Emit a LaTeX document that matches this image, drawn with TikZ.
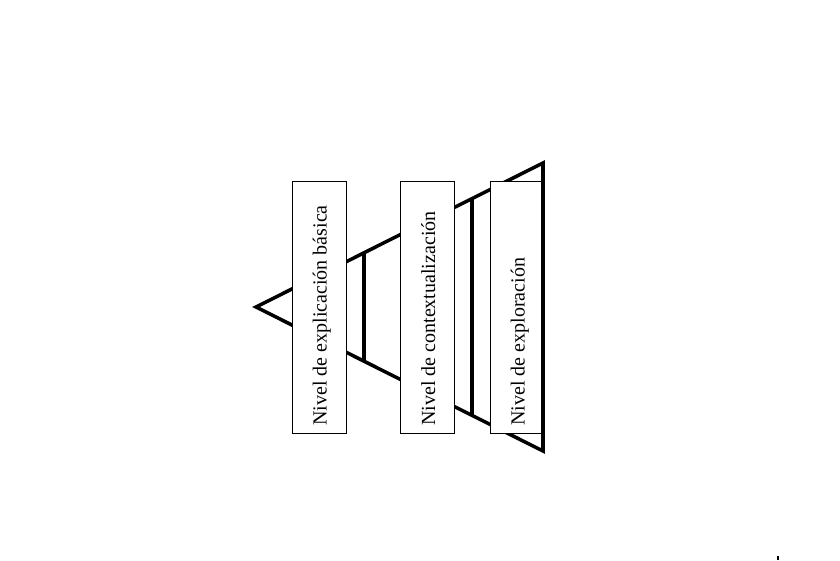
\documentclass[tikz,border=0pt]{standalone}
\usepackage{fontspec}
\setmainfont{Liberation Serif}
\usetikzlibrary{calc}

\begin{document}
\begin{tikzpicture}[x=1pt, y=-1pt,
		nivel/.style={draw, fill=white, line width=0.8pt, minimum width=54pt, minimum height=252pt, inner sep=0pt},
		rotulo/.style={rotate=90, anchor=base west, inner sep=0pt, font=\fontsize{20}{24}\selectfont},
		borde/.style={line width=3.5pt}]
			%%%%% START %%%%%
			\useasboundingbox (0,0) rectangle (840,561);
			
			\coordinate (apex) at (256,307);
			\coordinate (arriba) at (543,163);
			\coordinate (abajo) at (543,451);
			
			\draw[borde] (arriba) -- (apex) -- (abajo) -- cycle;
			\draw[borde] ($(apex)!0.376!(arriba)$) -- ($(apex)!0.376!(abajo)$);
			\draw[borde] ($(apex)!0.753!(arriba)$) -- ($(apex)!0.753!(abajo)$);
			
			\node[nivel] (basica) at (319,307.5) {};
			\node[rotulo] at ($(basica.south west)+(35,-8)$) {Nivel de explicación básica};
			
			\node[nivel] (contexto) at (427.5,307.5) {};
			\node[rotulo] at ($(contexto.south west)+(35,-8)$) {Nivel de contextualización};
			
			\node[nivel] (exploracion) at (517,307.5) {};
			\node[rotulo] at ($(exploracion.south west)+(35,-8)$) {Nivel de exploración};
			
			\draw[borde] (arriba) -- (abajo);
			
			\draw[line width=1.5pt] (778,556) -- (778,560);
			%%%%% END %%%%%
\end{tikzpicture}
\end{document}
